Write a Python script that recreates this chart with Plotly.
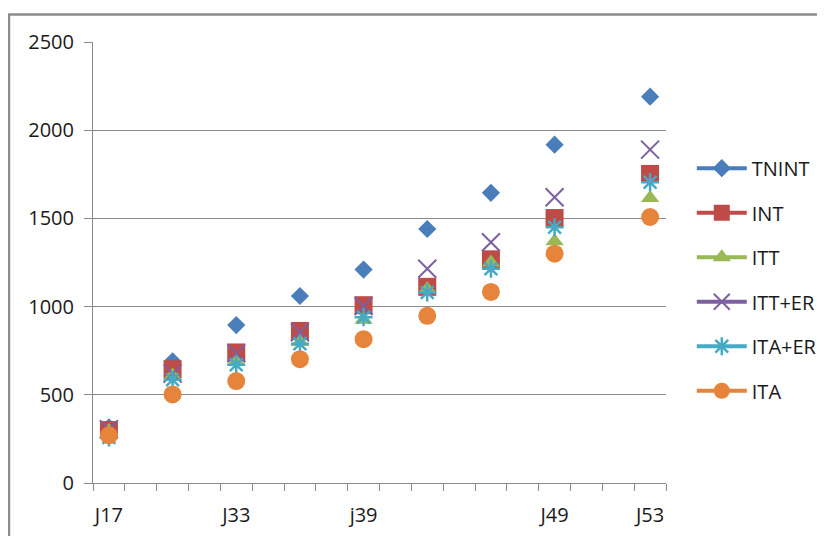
import plotly.graph_objects as go

categories = ["J17", "", "", "", "J33", "", "", "", "j39", "", "", "", "", "", "J49", "", "", "J53"]

tnint = [315, None, 690, None, 895, None, 1060, None, 1210, None, 1440, None, 1645, None, 1918, None, None, 2190]
int_ = [300, None, 645, None, 740, None, 862, None, 1008, None, 1112, None, 1268, None, 1502, None, None, 1752]
itt = [295, None, 610, None, 690, None, 800, None, 925, None, 1100, None, 1250, None, 1370, None, None, 1615]
itt_er = [305, None, 620, None, 735, None, 855, None, 1003, None, 1215, None, 1365, None, 1620, None, None, 1890]
ita_er = [258, None, 585, None, 670, None, 790, None, 940, None, 1080, None, 1215, None, 1450, None, None, 1705]
ita = [270, None, 502, None, 578, None, 702, None, 815, None, 948, None, 1083, None, 1300, None, None, 1508]

y_ticks = [0, 500, 1000, 1500, 2000, 2500]

FONT = "Open Sans"
GRID = "#8a8a8a"

series = [
    ("TNINT", tnint, "#4A7EBB", "diamond", 14, 0),
    ("INT", int_, "#BE4B48", "square", 18, 0),
    ("ITT", itt, "#98B954", "triangle-up", 16, 0),
    ("ITT+ER", itt_er, "#7D60A0", "x-thin-open", 18, 2),
    ("ITA+ER", ita_er, "#46AAC5", "asterisk-open", 15, 2.5),
    ("ITA", ita, "#E5843A", "circle", 18, 0),
]

x_idx = list(range(len(categories)))

fig = go.Figure()
for i, (name, vals, color, sym, size, lw) in enumerate(series):
    marker = dict(symbol=sym, size=size, color=color)
    if lw:
        marker["line"] = dict(color=color, width=lw)
    else:
        marker["line"] = dict(width=0)
    fig.add_trace(go.Scatter(
        x=x_idx, y=vals, name=name, mode="lines+markers",
        connectgaps=False, line=dict(color=color, width=4),
        marker=marker, legendgroup=name,
    ))

# invisible trace to activate the label axis
fig.add_trace(go.Scatter(x=[0], y=[None], xaxis="x2", showlegend=False, hoverinfo="skip"))

n = len(categories)
fig.update_layout(
    width=825, height=536,
    margin=dict(l=85, r=167, t=33.5, b=61, autoexpand=False),
    paper_bgcolor="white", plot_bgcolor="white",
    font=dict(family=FONT, size=20, color="#1a1a1a"),
    showlegend=True,
    legend=dict(
        x=1.045, y=0.758, xanchor="left", yanchor="top",
        font=dict(family=FONT, size=20, color="#1a1a1a"),
        tracegroupgap=15.5, itemwidth=50, bgcolor="rgba(0,0,0,0)",
    ),
    xaxis=dict(
        range=[-0.5, n - 0.5], tickmode="array",
        tickvals=[i - 0.5 for i in range(n + 1)],
        ticktext=[""] * (n + 1),
        ticks="outside", ticklen=7, tickcolor=GRID, tickwidth=1,
        showline=True, linecolor=GRID, linewidth=1,
        showgrid=False, zeroline=False, fixedrange=True, automargin=False,
    ),
    xaxis2=dict(
        overlaying="x", matches="x", side="bottom",
        range=[-0.5, n - 0.5], tickmode="array",
        tickvals=x_idx, ticktext=categories,
        ticks="", ticklen=0, showline=False, showgrid=False, zeroline=False,
        ticklabelstandoff=18, automargin=False,
        tickfont=dict(family=FONT, size=20, color="#1a1a1a"),
    ),
    yaxis=dict(
        range=[0, 2500], tickmode="array", tickvals=y_ticks,
        ticktext=[str(v) for v in y_ticks],
        ticks="outside", ticklen=8, tickcolor=GRID, tickwidth=1,
        showline=True, linecolor=GRID, linewidth=1,
        showgrid=True, gridcolor=GRID, gridwidth=1,
        zeroline=False, ticklabelstandoff=6, automargin=False,
        tickfont=dict(family=FONT, size=20, color="#1a1a1a"),
    ),
    shapes=[dict(
        type="rect", xref="paper", yref="paper",
        x0=-0.1466, x1=1.30, y0=-0.17, y1=1.0623,
        line=dict(color="#8c8c8c", width=2.5), fillcolor="rgba(0,0,0,0)",
        layer="below",
    )],
)

fig.write_html("out.html")
